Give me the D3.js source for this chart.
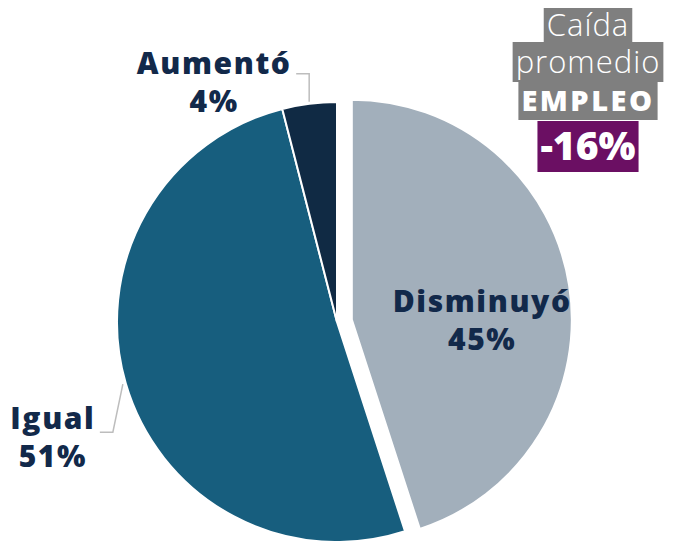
<!DOCTYPE html>
<html>
<head>
<meta charset="utf-8">
<script src="https://cdn.jsdelivr.net/npm/d3@7"></script>
<style>
  body { margin: 0; background: #fff; }
  svg { display: block; font-family: "Open Sans", sans-serif; }
</style>
</head>
<body>
<div class="pie-chart"></div>
<script>
// datos
const categories = ['Disminuyó', 'Igual', 'Aumentó'];
const values = [45, 51, 4];
const colors = ['#a2afbb', '#175e7e', '#102a44'];
const boxLines = ['Caída', 'promedio', 'EMPLEO', '-16%'];

const width = 676;
const height = 541;
const cx = 337, cy = 322, r = 220;
const textColor = '#12294a';

const svg = d3.select('.pie-chart')
  .append('svg')
  .attr('width', width)
  .attr('height', height);

const data = categories.map((c, i) => ({name: c, value: values[i], color: colors[i]}));

const pie = d3.pie().sort(null).value(d => d.value);
const arcs = pie(data);
const arc = d3.arc().innerRadius(0).outerRadius(r);

// Disminuyó se separa
const explode = d => d.data.name == 'Disminuyó' ? 15 : 0;
const offset = d => {
  const a = (d.startAngle + d.endAngle) / 2;
  return [Math.sin(a) * explode(d), -Math.cos(a) * explode(d)];
};

const g = svg.append('g').attr('transform', `translate(${cx},${cy})`);

g.selectAll('path')
  .data(arcs)
  .enter()
  .append('path')
  .attr('d', arc)
  .attr('fill', d => d.data.color)
  .attr('stroke', '#fff')
  .attr('stroke-width', 2)
  .attr('transform', d => `translate(${offset(d)})`);

const point = (a, rr) => [Math.sin(a) * rr, -Math.cos(a) * rr];

// etiquetas
arcs.forEach(d => {
  const a = (d.startAngle + d.endAngle) / 2;
  const pct = d.data.value + '%';
  let x, y;
  if (d.data.name == 'Disminuyó') {
    const o = offset(d);
    const p = point(a, 0.6 * r);
    x = p[0] + o[0]; y = p[1] + o[1] + 3;
  } else if (d.data.name == 'Aumentó') {
    const p = point(a, r + 2);
    const elbowY = p[1] - 28;
    g.append('polyline')
      .attr('points', [[p[0], p[1]], [p[0], elbowY], [p[0] - 13, elbowY]].join(' '))
      .attr('fill', 'none').attr('stroke', '#bdbdbd').attr('stroke-width', 1.5);
    x = p[0] - 95; y = elbowY - 10;
  } else {
    const p = point(a, r + 3);
    const ex = p[0] - 10, ey = p[1] + 48;
    g.append('polyline')
      .attr('points', [[p[0], p[1]], [ex, ey], [ex - 13, ey]].join(' '))
      .attr('fill', 'none').attr('stroke', '#bdbdbd').attr('stroke-width', 1.5);
    x = ex - 60; y = ey - 13;
  }
  const t = g.append('text')
    .attr('x', x).attr('y', y)
    .attr('text-anchor', 'middle')
    .attr('fill', textColor)
    .attr('font-weight', 800)
    .attr('font-size', '30px')
    .attr('letter-spacing', '1.6px');
  t.append('tspan').attr('x', x).attr('dy', 10).text(d.data.name);
  t.append('tspan').attr('x', x).attr('dy', 38).text(pct);
});

// recuadro caída promedio
const bx = 588;
const boxY = [8, 42, 82, 121];
const boxH = [34, 40, 38, 51];
const boxFill = ['#7f7f7f', '#7f7f7f', '#7f7f7f', '#6b0f63'];
const boxWeight = [300, 300, 800, 800];
const boxSize = [31, 31, 29, 39];
const boxSpacing = [1, 1, 2.5, 0];

boxLines.forEach((txt, i) => {
  const grp = svg.append('g');
  const rect = grp.append('rect');
  const t = grp.append('text')
    .attr('x', bx)
    .attr('y', boxY[i] + boxH[i] / 2)
    .attr('dy', '0.35em')
    .attr('text-anchor', 'middle')
    .attr('fill', '#fff')
    .attr('font-weight', boxWeight[i])
    .attr('font-size', boxSize[i] + 'px')
    .attr('letter-spacing', boxSpacing[i] + 'px')
    .text(txt);
  const bb = t.node().getBBox();
  rect.attr('x', bb.x - 3).attr('width', bb.width + 6)
    .attr('y', boxY[i]).attr('height', boxH[i])
    .attr('fill', boxFill[i]);
});
</script>
</body>
</html>
